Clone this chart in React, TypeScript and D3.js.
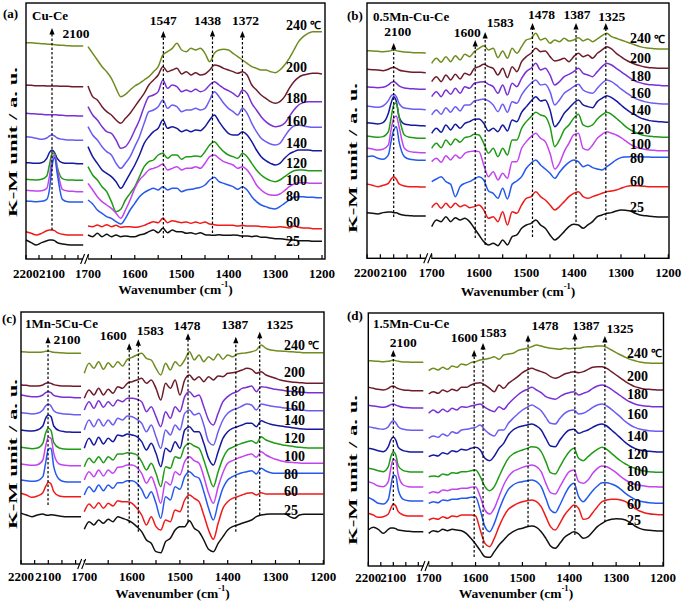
import React from 'react';
import * as d3 from 'd3';

// ---------- categories / axes ----------
const temperatures = ['240', '200', '180', '160', '140', '120', '100', '80', '60', '25'];
const unitLabel = '℃';
const seriesColors = ['#6f8c1f', '#6e1b2c', '#7a30d4', '#6b5cf2', '#1518a0', '#1f9b16', '#c244f0', '#2559ee', '#ef1a1a', '#111111'];
const leftWavenumbers = [2200, 2180, 2160, 2140, 2120, 2110, 2100, 2090, 2080, 2060, 2040, 2020, 2000, 1980];
const rightWavenumbers = d3.range(1700, 1195, -10);
const leftTicks = [2200, 2150, 2100, 2050, 2000];
const leftTickLabels = [2200, 2100];
const rightTicks = d3.range(1700, 1195, -50);
const rightTickLabels = d3.range(1700, 1195, -100);

// ---------- (a) Cu-Ce ----------
const cuCeLeft = [
  [649,649,647,646,645,644,644,643,642,641,640,639,639,639],
  [522,521,520,520,519,519,519,519,519,518,518,517,517,517],
  [437,436,435,434,433,433,433,433,432,431,430,430,429,429],
  [367,365,362,359,363,369,372,369,363,359,357,357,356,356],
  [289,288,287,289,302,319,327,319,302,289,287,287,286,286],
  [239,238,237,239,249,282,315,317,277,241,237,237,236,236],
  [206,205,204,205,212,247,299,312,272,209,204,203,202,202],
  [174,173,172,173,179,207,277,305,257,179,172,171,171,171],
  [82,77,72,77,85,87,87,85,79,74,72,72,72,72],
  [57,49,42,49,55,57,57,55,49,45,43,42,42,42],
];
const cuCeRight = [
  [637,617,597,577,562,542,512,487,494,507,519,527,537,547,562,577,612,622,632,647,627,622,632,627,632,617,592,617,627,629,627,617,607,597,587,577,572,567,567,562,559,567,582,602,627,652,667,677,682,682,682],
  [519,487,477,457,442,432,417,407,422,437,457,477,497,522,537,552,577,562,567,572,555,562,552,559,552,555,567,582,579,572,567,562,557,562,552,522,507,492,482,472,467,472,487,512,532,545,552,555,557,557,555],
  [457,432,417,397,382,377,357,332,337,357,387,417,457,487,492,502,537,512,522,517,502,507,502,509,502,507,522,532,522,512,505,497,487,507,497,467,447,427,412,402,397,399,407,427,447,462,469,472,472,472,472],
  [397,372,357,337,322,312,287,272,287,307,337,367,407,442,447,457,477,452,462,457,442,447,447,452,447,452,477,502,487,467,452,442,432,452,437,407,382,362,352,345,342,347,367,387,399,402,399,397,395,395,395],
  [337,307,287,267,257,247,232,212,232,257,282,312,347,367,382,392,417,392,397,392,382,387,382,387,385,397,417,432,412,392,377,372,372,382,372,352,327,307,295,287,282,287,302,315,322,327,327,327,325,325,325],
  [277,252,237,217,202,172,142,149,177,197,217,247,277,292,297,312,317,302,312,312,299,307,307,309,307,322,342,352,337,322,312,307,302,317,307,287,267,252,242,235,232,237,247,257,265,267,267,265,265,265,265],
  [227,207,187,172,162,152,137,122,147,177,212,237,252,267,272,277,285,267,272,277,267,272,272,277,272,287,307,312,302,292,287,282,272,277,267,247,222,207,197,192,191,195,205,217,225,229,229,228,227,227,227],
  [177,165,147,137,127,122,112,105,122,147,167,187,199,207,212,207,217,207,212,212,202,207,209,212,215,222,237,245,232,227,222,217,209,217,207,187,172,162,157,152,150,157,167,177,185,187,187,185,185,184,184],
  [99,97,102,97,103,97,101,95,97,97,95,97,101,107,112,109,122,109,115,112,109,111,107,111,107,111,105,103,101,101,101,101,99,101,99,99,99,97,97,95,95,97,95,93,99,95,93,93,91,91,91],
  [72,67,77,67,74,67,72,67,69,67,67,72,75,82,87,79,92,79,87,82,82,77,79,75,79,73,72,71,73,71,71,72,71,69,69,67,69,65,65,63,61,61,59,57,57,55,55,55,53,53,53],
];
const cuCeLabelLevels = [702, 574, 482, 412, 347, 287, 237, 187, 109, 52];
const cuCeMarkers = [
  { label: '2100', wn: 2100, seg: 'L', top: 693, bottom: 87, dx: 24, dy: 5 },
  { label: '1547', wn: 1539, seg: 'R', top: 684, bottom: 63, dx: 0, dy: -11 },
  { label: '1438', wn: 1434, seg: 'R', top: 687, bottom: 78, dx: -5, dy: -10 },
  { label: '1372', wn: 1370, seg: 'R', top: 684, bottom: 63, dx: 3, dy: -11 },
];

// ---------- (b) 0.5Mn-Cu-Ce ----------
const mn05Left = [
  [623,622,621,620,621,623,625,623,621,619,618,617,617,616],
  [567,566,565,563,567,571,573,570,565,561,559,558,558,557],
  [515,513,512,513,520,527,530,525,517,511,509,508,507,507],
  [457,455,453,457,473,487,492,485,465,451,449,447,447,446],
  [407,405,403,407,435,465,485,470,425,403,400,399,398,397],
  [367,365,363,365,380,420,460,467,425,370,363,361,360,360],
  [330,328,325,327,340,385,420,427,395,330,320,318,317,317],
  [305,307,300,297,310,350,385,395,350,305,297,295,294,294],
  [223,219,215,219,225,237,245,237,223,217,215,215,214,214],
  [137,135,133,137,139,139,137,137,133,129,128,127,127,127],
];
const mn05Right = [
  [585,600,588,605,590,608,595,612,605,620,630,638,625,630,602,622,600,630,615,635,655,660,675,655,660,645,655,650,660,652,655,662,652,658,650,658,668,675,665,660,655,650,645,640,635,632,630,629,628,628,628],
  [530,545,530,550,535,552,538,555,550,570,575,582,575,570,550,570,542,575,560,590,605,615,630,620,622,605,592,595,600,590,605,615,605,610,600,615,625,635,628,615,605,595,588,582,578,574,572,571,570,570,570],
  [485,500,485,505,492,510,495,515,510,525,528,530,522,515,495,520,490,525,515,540,560,570,585,565,570,550,520,530,545,552,560,570,555,550,545,560,575,585,580,570,560,550,540,532,527,523,521,520,519,518,518],
  [430,445,432,452,438,455,442,460,460,472,475,478,472,460,440,462,438,470,465,490,510,525,535,520,522,500,460,475,495,505,515,522,505,498,495,510,525,535,530,520,508,498,488,480,474,470,467,465,464,463,463],
  [375,390,378,400,385,402,390,405,410,417,418,405,382,390,380,400,382,415,410,438,455,472,485,472,475,445,395,410,435,450,465,475,460,455,452,470,480,488,482,472,460,448,438,430,422,417,413,411,410,409,408],
  [330,345,332,355,340,358,348,362,365,372,370,345,315,330,305,330,310,355,355,390,410,425,438,430,425,395,335,355,385,400,420,432,400,395,400,418,430,438,432,420,408,395,385,378,372,368,366,365,364,363,363],
  [290,300,288,308,295,310,300,315,320,322,320,280,245,260,235,255,240,290,290,330,350,365,375,360,350,315,268,285,320,345,370,375,330,325,340,360,372,380,375,370,362,352,342,335,330,327,325,324,323,323,323],
  [230,238,245,230,222,185,215,225,230,238,245,235,202,195,180,210,178,222,232,245,270,285,295,280,268,255,240,258,275,288,295,290,275,280,272,268,265,275,285,295,302,304,305,305,305,304,304,303,303,303,303],
  [152,165,150,165,152,165,155,160,152,155,160,145,120,125,110,140,100,140,135,160,180,185,200,185,175,160,145,155,170,185,195,200,185,180,185,190,195,200,202,205,210,215,218,218,217,216,215,215,215,215,215],
  [95,115,110,125,110,122,115,120,110,90,70,50,40,45,38,55,40,65,70,90,100,105,115,100,90,70,55,65,80,95,102,100,90,100,110,125,130,135,137,142,145,144,142,135,130,128,126,125,124,124,124],
];
const mn05LabelLevels = [658, 600, 545, 495, 442, 385, 342, 300, 230, 152];
const mn05Markers = [
  { label: '2100', wn: 2100, seg: 'L', top: 646, bottom: 124, dx: 4, dy: -11 },
  { label: '1600', wn: 1608, seg: 'R', top: 655, bottom: 61, dx: -8, dy: -7 },
  { label: '1583', wn: 1587, seg: 'R', top: 679, bottom: 40, dx: 15, dy: -9 },
  { label: '1478', wn: 1487, seg: 'R', top: 706, bottom: 64, dx: 9, dy: -8 },
  { label: '1387', wn: 1395, seg: 'R', top: 706, bottom: 109, dx: 1, dy: -8 },
  { label: '1325', wn: 1332, seg: 'R', top: 706, bottom: 115, dx: 6, dy: -6 },
];

// ---------- (c) 1Mn-5Cu-Ce ----------
const mn1Left = [
  [637,636,635,635,636,638,639,637,635,634,633,632,632,632],
  [537,536,534,534,537,542,544,542,538,535,534,534,533,533],
  [507,504,502,502,507,514,517,514,506,502,500,500,499,499],
  [454,452,450,452,462,474,480,474,460,452,450,449,448,448],
  [402,400,399,402,414,437,447,442,414,400,397,396,395,395],
  [350,348,346,348,362,392,407,400,364,348,345,344,344,344],
  [300,298,296,298,312,352,380,377,332,300,296,295,295,295],
  [252,250,248,250,262,302,344,347,292,254,247,246,246,246],
  [212,207,200,204,214,232,245,240,217,204,202,202,202,202],
  [152,147,142,147,150,147,146,148,147,144,142,142,142,142],
];
const mn1Right = [
  [572,602,587,607,584,604,590,607,594,614,620,627,632,617,612,587,567,602,582,607,594,612,637,612,627,607,622,612,630,614,627,622,630,632,634,637,642,657,647,642,640,639,638,637,636,635,634,634,634,634,634],
  [497,522,507,527,507,524,512,532,527,542,547,552,557,542,552,527,492,542,527,552,507,552,567,552,562,547,562,552,564,562,572,574,577,582,587,584,572,577,567,562,557,552,549,547,545,544,543,542,542,542,542],
  [462,487,467,490,470,487,474,492,487,497,497,494,487,457,472,442,412,457,437,472,457,502,517,502,507,472,432,417,452,487,502,512,517,527,530,534,517,532,530,527,524,522,520,518,517,516,515,514,514,514,514],
  [402,432,412,434,414,432,417,437,432,444,442,434,422,397,417,382,347,402,387,417,402,452,462,447,452,417,367,357,397,432,452,462,467,474,480,477,462,480,477,474,472,470,468,466,464,462,461,460,460,460,460],
  [347,377,357,380,360,377,367,387,384,390,387,382,367,342,362,332,292,347,337,367,347,402,412,397,397,362,317,297,337,377,397,407,412,417,422,422,412,430,424,419,416,414,412,410,408,406,405,404,404,404,404],
  [292,317,304,322,304,322,312,330,330,334,332,327,307,282,302,272,232,292,287,322,317,352,362,354,347,312,267,232,277,317,342,350,357,362,367,370,362,382,372,367,362,359,356,354,352,350,349,348,348,348,348],
  [252,277,262,282,264,282,272,290,292,297,297,290,272,242,262,227,182,247,237,277,267,307,322,310,302,262,212,182,232,274,302,310,317,322,327,330,320,337,327,320,314,310,307,305,304,303,302,302,302,302,302],
  [207,232,217,237,220,237,227,244,244,250,250,242,224,197,217,182,137,202,192,232,224,262,277,264,257,217,167,132,182,227,252,262,269,274,277,280,270,287,279,274,272,272,272,272,272,272,272,272,272,272,272],
  [157,180,167,184,167,182,174,190,187,187,182,167,147,117,142,112,102,132,127,162,157,192,207,197,187,147,102,74,122,167,187,197,202,207,212,214,207,214,210,210,210,210,210,210,210,210,210,210,210,210,210],
  [104,127,117,132,122,134,127,142,137,132,124,112,97,72,62,37,34,67,77,102,112,112,130,107,97,72,44,37,62,82,102,112,117,122,127,132,142,147,149,150,150,150,150,142,137,147,149,149,149,149,149],
];
const mn1LabelLevels = [657, 574, 519, 474, 430, 377, 322, 270, 219, 162];
const mn1Markers = [
  { label: '2100', wn: 2101, seg: 'L', top: 682, bottom: 177, dx: 19, dy: 3 },
  { label: '1600', wn: 1606, seg: 'R', top: 662, bottom: 122, dx: -16, dy: -8 },
  { label: '1583', wn: 1587, seg: 'R', top: 674, bottom: 97, dx: 12, dy: -9 },
  { label: '1478', wn: 1483, seg: 'R', top: 692, bottom: 127, dx: -1, dy: -8 },
  { label: '1387', wn: 1383, seg: 'R', top: 682, bottom: 97, dx: -1, dy: -12 },
  { label: '1325', wn: 1333, seg: 'R', top: 697, bottom: 147, dx: 20, dy: -7 },
];

// ---------- (d) 1.5Mn-Cu-Ce ----------
const mn15Left = [
  [616,615,614,613,614,616,618,616,614,612,612,611,611,611],
  [536,533,530,528,533,538,540,536,532,528,527,526,526,526],
  [482,480,478,476,480,484,486,483,480,476,475,474,474,474],
  [418,415,412,410,418,430,436,430,418,410,408,407,407,407],
  [353,350,346,343,358,378,386,378,356,346,343,342,342,342],
  [293,290,286,283,298,328,343,333,300,286,283,282,282,282],
  [253,248,240,238,253,293,320,316,273,243,238,237,237,237],
  [206,198,188,186,200,238,273,270,228,200,196,195,195,195],
  [158,153,146,148,156,173,186,180,163,153,150,150,150,150],
  [108,116,110,98,110,114,114,112,108,106,104,103,103,103],
];
const mn15Right = [
  [586,593,588,596,590,600,596,606,603,610,613,618,620,623,628,620,633,636,638,646,650,653,658,663,660,656,653,652,650,653,652,653,653,656,658,658,660,660,656,648,640,633,626,620,616,612,610,609,608,608,608],
  [516,523,518,528,523,530,526,536,536,543,548,550,543,533,523,543,533,548,558,568,580,588,593,588,583,578,568,563,568,576,580,583,580,583,590,596,598,598,593,583,573,563,553,545,538,534,531,530,529,528,528],
  [458,468,460,470,463,473,468,478,476,480,483,486,476,468,463,478,470,486,500,513,523,530,536,528,520,508,503,500,508,516,520,523,513,518,523,533,540,543,538,530,520,510,500,492,486,482,480,479,478,478,478],
  [383,390,386,396,390,403,398,408,410,413,416,423,408,396,390,408,408,428,443,456,468,476,483,476,466,446,428,426,443,458,466,468,456,458,466,476,483,486,480,470,458,446,433,423,416,411,408,406,405,404,404],
  [328,333,330,340,336,346,343,350,348,353,356,348,323,316,330,353,368,393,408,416,420,423,426,420,408,383,360,358,378,396,408,410,398,403,408,416,423,426,420,408,396,383,370,360,353,348,346,344,343,342,342],
  [268,270,268,276,273,280,278,283,283,286,288,268,238,226,238,268,298,323,336,343,348,353,358,356,343,313,280,276,298,323,343,353,323,316,328,340,350,356,350,338,326,315,306,298,293,288,285,283,282,281,281],
  [218,223,220,228,226,230,230,233,233,236,238,208,168,156,173,208,243,268,283,290,296,300,303,298,283,248,220,216,238,263,283,288,253,248,258,278,293,300,298,290,280,268,258,250,245,242,240,238,238,237,237],
  [188,193,190,198,196,200,200,203,203,206,206,168,118,103,128,168,203,230,243,250,253,256,258,253,238,203,168,160,183,213,238,248,208,193,208,226,240,250,250,246,240,230,218,208,200,195,192,190,189,188,188],
  [138,143,140,148,143,150,148,153,153,153,150,108,68,58,83,118,148,170,180,188,193,196,198,193,178,148,118,108,128,153,170,183,173,140,143,160,178,193,198,200,200,198,193,183,173,165,160,157,155,154,154],
  [98,106,103,110,106,110,108,106,98,83,66,46,28,26,43,63,78,93,103,110,113,118,120,116,103,83,60,53,68,86,96,103,96,83,88,103,118,128,136,140,142,141,138,130,120,113,109,107,106,105,105],
];
const mn15LabelLevels = [638, 568, 516, 456, 390, 335, 283, 238, 186, 136];
const mn15Markers = [
  { label: '2100', wn: 2100, seg: 'L', top: 648, bottom: 168, dx: 10, dy: -8 },
  { label: '1600', wn: 1603, seg: 'R', top: 648, bottom: 27, dx: -10, dy: -13 },
  { label: '1583', wn: 1584, seg: 'R', top: 669, bottom: 54, dx: 10, dy: -11 },
  { label: '1478', wn: 1488, seg: 'R', top: 693, bottom: 117, dx: 17, dy: -10 },
  { label: '1387', wn: 1388, seg: 'R', top: 699, bottom: 93, dx: 11, dy: -8 },
  { label: '1325', wn: 1324, seg: 'R', top: 690, bottom: 132, dx: 15, dy: -8 },
];

// ---------- layout ----------
const FONT = "'Liberation Serif', 'Times New Roman', Times, serif";

const panels = [
  { tag: '(a)', name: 'Cu-Ce', left: cuCeLeft, right: cuCeRight, levels: cuCeLabelLevels, markers: cuCeMarkers,
    layout: { frame: [26, 325, 3, 259], leftK: 0.26, rightRange: [88, 322], labelX: 286, tagXY: [3, 13.5], nameXY: [32, 15], tickY: 273, titleY: 289, yTitle: [12, 142] } },
  { tag: '(b)', name: '0.5Mn-Cu-Ce', left: mn05Left, right: mn05Right, levels: mn05LabelLevels, markers: mn05Markers,
    layout: { frame: [367, 669, 3, 258.3], leftK: 0.267, rightRange: [431.7, 668.3], labelX: 630, tagXY: [347, 15], nameXY: [373, 16], tickY: 272, titleY: 291, yTitle: [352, 158] } },
  { tag: '(c)', name: '1Mn-5Cu-Ce', left: mn1Left, right: mn1Right, levels: mn1LabelLevels, markers: mn1Markers,
    layout: { frame: [21, 324, 312, 564], leftK: 0.273, rightRange: [84.3, 323.3], labelX: 284, tagXY: [2, 318], nameXY: [25, 323], tickY: 576, titleY: 593, yTitle: [12, 454] } },
  { tag: '(d)', name: '1.5Mn-Cu-Ce', left: mn15Left, right: mn15Right, levels: mn15LabelLevels, markers: mn15Markers,
    layout: { frame: [368.3, 663.5, 313, 566], leftK: 0.25, rightRange: [428.7, 663], labelX: 627, tagXY: [347, 315], nameXY: [373, 323], tickY: 577, titleY: 593, yTitle: [352, 470] } },
];

function Panel({ p }: { p: any }) {
  const L = p.layout;
  const [l, r, t, b] = L.frame;
  const y = d3.scaleLinear().domain([0, (b - t) * 3]).range([b, t]);
  const xL = d3.scaleLinear().domain([2200, 1980]).range([l, l + 220 * L.leftK]);
  const xR = d3.scaleLinear().domain([1700, 1200]).range(L.rightRange);
  const lineL = d3.line<number>().x((_, i) => xL(leftWavenumbers[i])).y((v) => y(v)).curve(d3.curveMonotoneX);
  const lineR = d3.line<number>().x((_, i) => xR(rightWavenumbers[i])).y((v) => y(v)).curve(d3.curveMonotoneX);
  const breakX = (xL(1980) + xR(1700)) / 2;
  const txt = { fontFamily: FONT, fontWeight: 700 as const, fill: '#000' };

  return (
    <g>
      {p.left.map((s: number[], i: number) => (
        <path key={'l' + i} d={lineL(s) || ''} fill="none" stroke={seriesColors[i]} strokeWidth={1.5} />
      ))}
      {p.right.map((s: number[], i: number) => (
        <path key={'r' + i} d={lineR(s) || ''} fill="none" stroke={seriesColors[i]} strokeWidth={1.5} />
      ))}
      <rect x={l} y={t} width={r - l} height={b - t} fill="none" stroke="#000" strokeWidth={1.4} />
      {leftTicks.map((w) => (
        <line key={'lt' + w} x1={xL(w)} x2={xL(w)} y1={b} y2={b - 4} stroke="#000" strokeWidth={1.2} />
      ))}
      {rightTicks.map((w) => (
        <line key={'rt' + w} x1={xR(w)} x2={xR(w)} y1={b} y2={b - 4} stroke="#000" strokeWidth={1.2} />
      ))}
      <rect x={breakX - 2.5} y={b - 2} width={5} height={4} fill="#fff" />
      <line x1={breakX - 5} y1={b + 5} x2={breakX - 1} y2={b - 5} stroke="#000" strokeWidth={1.1} />
      <line x1={breakX - 1} y1={b + 5} x2={breakX + 3} y2={b - 5} stroke="#000" strokeWidth={1.1} />
      {leftTickLabels.map((w) => (
        <text key={'ll' + w} x={xL(w)} y={L.tickY} textAnchor="middle" dominantBaseline="central" fontSize={13} {...txt}>{w}</text>
      ))}
      {rightTickLabels.map((w) => (
        <text key={'rl' + w} x={xR(w)} y={L.tickY} textAnchor="middle" dominantBaseline="central" fontSize={13} {...txt}>{w}</text>
      ))}
      <text x={(l + r) / 2} y={L.titleY} textAnchor="middle" dominantBaseline="central" fontSize={13.5} {...txt}>
        Wavenumber (cm<tspan fontSize={8.5} dy={-5}>-1</tspan><tspan dy={5}>)</tspan>
      </text>
      <text transform={`translate(${L.yTitle[0]},${L.yTitle[1]}) rotate(-90)`} textAnchor="middle" dominantBaseline="central"
        fontSize={13} textLength={150} lengthAdjust="spacingAndGlyphs" {...txt}>K-M unit / a. u.</text>
      <text x={L.tagXY[0]} y={L.tagXY[1]} dominantBaseline="central" fontSize={13} {...txt}>{p.tag}</text>
      <text x={L.nameXY[0]} y={L.nameXY[1]} dominantBaseline="central" fontSize={13} {...txt}>{p.name}</text>
      {p.markers.map((m: any) => {
        const x = m.seg === 'L' ? xL(m.wn) : xR(m.wn);
        const ty = y(m.top);
        const by = y(m.bottom);
        return (
          <g key={'m' + m.label}>
            <line x1={x} x2={x} y1={by} y2={ty + 5} stroke="#000" strokeWidth={1.2} strokeDasharray="2.5,2" />
            <path d={`M${x},${ty}L${x - 2.6},${ty + 6.5}L${x + 2.6},${ty + 6.5}Z`} fill="#000" />
            <text x={x + m.dx} y={ty + m.dy} textAnchor="middle" dominantBaseline="central" fontSize={13.5} {...txt}>{m.label}</text>
          </g>
        );
      })}
      {p.levels.map((v: number, i: number) => (
        <text key={'tl' + i} x={L.labelX} y={y(v)} dominantBaseline="central" fontSize={14} {...txt}>
          {temperatures[i]}
          {i === 0 ? <tspan fontSize={11} dx={3}>{unitLabel}</tspan> : null}
        </text>
      ))}
    </g>
  );
}

export default function App() {
  return (
    <svg width={683} height={606} viewBox="0 0 683 606" style={{ position: 'absolute', left: 0, top: 0, display: 'block', background: '#fff' }}>
      <rect x={0} y={0} width={683} height={606} fill="#fff" />
      {panels.map((p) => (
        <Panel key={p.tag} p={p} />
      ))}
    </svg>
  );
}
